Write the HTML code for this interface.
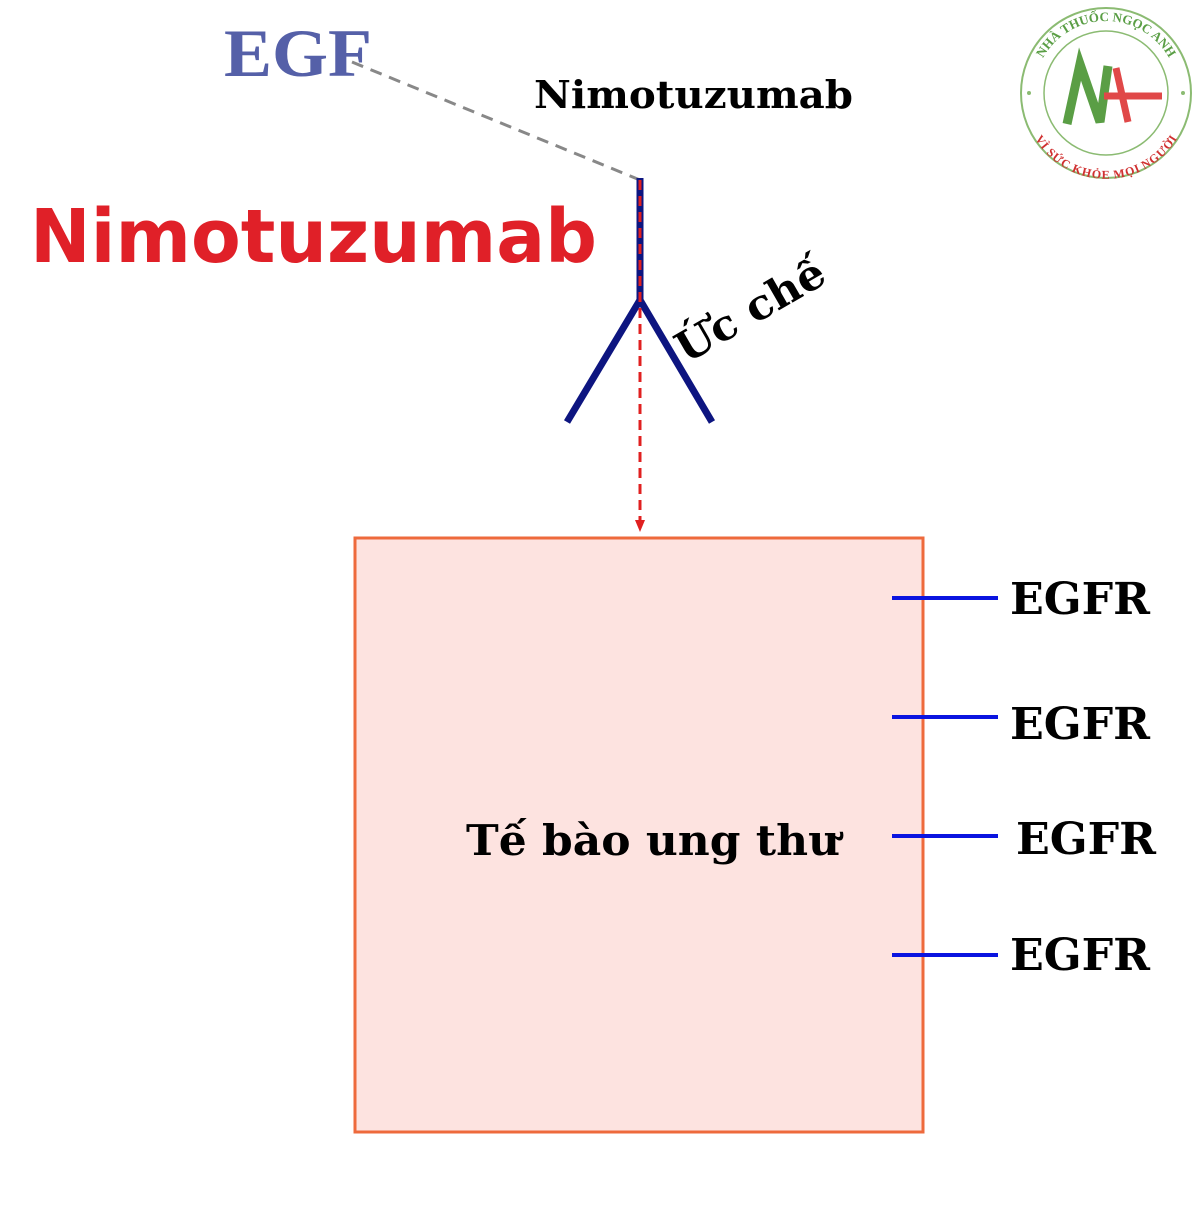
<!DOCTYPE html>
<html><head><meta charset="utf-8"><style>body{margin:0;background:#fff}</style></head>
<body>
<svg width="1200" height="1200" xmlns="http://www.w3.org/2000/svg">
<defs>
<path id="top" d="M1034,93 A72,72 0 0 1 1178,93"/>
<path id="bot" d="M1036,120 A74,74 0 0 0 1176,120"/>
</defs>
<rect x="355" y="538" width="568" height="594" fill="#fde3e0" stroke="#ee6a3c" stroke-width="3"/>
<line x1="352" y1="62" x2="640" y2="180" stroke="#888" stroke-width="3" stroke-dasharray="12,8"/>
<polyline points="567,422 640,300 712,422" fill="none" stroke="#0d1580" stroke-width="7"/>
<line x1="640" y1="178" x2="640" y2="302" stroke="#0d1580" stroke-width="7"/>
<line x1="640" y1="180" x2="640" y2="525" stroke="#e02020" stroke-width="3" stroke-dasharray="10,6"/>
<polygon points="635,520 645,520 640,532" fill="#e02020"/>
<g stroke="#0a14e0" stroke-width="4">
<line x1="892" y1="598" x2="998" y2="598"/><line x1="892" y1="717" x2="998" y2="717"/>
<line x1="892" y1="836" x2="998" y2="836"/><line x1="892" y1="955" x2="998" y2="955"/>
</g>
<text x="224" y="76" font-family="Liberation Serif, serif" font-weight="bold" font-size="68" fill="#5560a8" textLength="148" lengthAdjust="spacingAndGlyphs">EGF</text>
<g font-family="DejaVu Serif, serif" font-weight="bold" fill="#000">
<text x="534" y="108" font-size="38" textLength="319" lengthAdjust="spacingAndGlyphs">Nimotuzumab</text>
<text x="466" y="855" font-size="42" textLength="374" lengthAdjust="spacingAndGlyphs">Tế bào ung thư</text>
<text x="1010" y="614" font-size="44" textLength="140" lengthAdjust="spacingAndGlyphs">EGFR</text>
<text x="1010" y="739" font-size="44" textLength="140" lengthAdjust="spacingAndGlyphs">EGFR</text>
<text x="1016" y="854" font-size="44" textLength="140" lengthAdjust="spacingAndGlyphs">EGFR</text>
<text x="1010" y="970" font-size="44" textLength="140" lengthAdjust="spacingAndGlyphs">EGFR</text>
<text x="0" y="0" font-size="42" transform="translate(686,364) rotate(-30)" textLength="165" lengthAdjust="spacingAndGlyphs">Ức chế</text>
</g>
<text x="30" y="262" font-family="DejaVu Sans, sans-serif" font-weight="bold" font-size="74" fill="#e02028" textLength="567" lengthAdjust="spacingAndGlyphs">Nimotuzumab</text>
<circle cx="1106" cy="93" r="85" fill="#fff" stroke="#8bbb72" stroke-width="2"/>
<circle cx="1106" cy="93" r="62" fill="none" stroke="#8bbb72" stroke-width="1.5"/>
<polyline points="1067,124 1080,64 1100,122 1108,66" fill="none" stroke="#5a9e45" stroke-width="9"/>
<path d="M1116,68 L1128,122 M1104,96 L1162,96" stroke="#e04848" stroke-width="7"/>
<text font-family="Liberation Serif,serif" font-weight="bold" font-size="13" fill="#5a9e45"><textPath href="#top" startOffset="50%" text-anchor="middle">NHÀ THUỐC NGỌC ANH</textPath></text>
<text font-family="Liberation Serif,serif" font-weight="bold" font-size="12" fill="#d03030"><textPath href="#bot" startOffset="50%" text-anchor="middle" dominant-baseline="hanging">VÌ SỨC KHỎE MỌI NGƯỜI</textPath></text>
<circle cx="1029" cy="93" r="2" fill="#8bbb72"/><circle cx="1183" cy="93" r="2" fill="#8bbb72"/>
</svg>
</body></html>
